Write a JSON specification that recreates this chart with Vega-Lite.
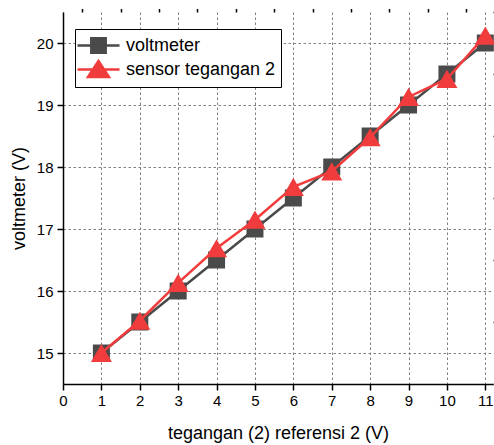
{
  "$schema": "https://vega.github.io/schema/vega-lite/v6.json",
  "width": 430,
  "height": 372,
  "autosize": {"type": "none"},
  "padding": {"left": 63, "top": 12, "right": 1, "bottom": 61},
  "config": {
    "view": {"stroke": null},
    "font": "Liberation Sans",
    "axis": {
      "labelFont": "Liberation Sans",
      "labelFontSize": 15,
      "labelColor": "#000000",
      "labelFlush": false,
      "titleFont": "Liberation Sans",
      "titleFontSize": 18,
      "titleFontWeight": "normal",
      "titleColor": "#000000",
      "domainColor": "#000000",
      "domainWidth": 1.5,
      "tickColor": "#000000",
      "tickWidth": 1.5,
      "gridColor": "#808080",
      "gridDash": [2.5, 2.5],
      "gridWidth": 1
    }
  },
  "data": {
    "values": [
      {"x": 1, "y": 15.0, "series": "voltmeter"},
      {"x": 2, "y": 15.5, "series": "voltmeter"},
      {"x": 3, "y": 16.0, "series": "voltmeter"},
      {"x": 4, "y": 16.5, "series": "voltmeter"},
      {"x": 5, "y": 17.0, "series": "voltmeter"},
      {"x": 6, "y": 17.5, "series": "voltmeter"},
      {"x": 7, "y": 18.0, "series": "voltmeter"},
      {"x": 8, "y": 18.5, "series": "voltmeter"},
      {"x": 9, "y": 19.0, "series": "voltmeter"},
      {"x": 10, "y": 19.5, "series": "voltmeter"},
      {"x": 11, "y": 20.0, "series": "voltmeter"},
      {"x": 1, "y": 15.0, "series": "sensor tegangan 2"},
      {"x": 2, "y": 15.52, "series": "sensor tegangan 2"},
      {"x": 3, "y": 16.13, "series": "sensor tegangan 2"},
      {"x": 4, "y": 16.69, "series": "sensor tegangan 2"},
      {"x": 5, "y": 17.15, "series": "sensor tegangan 2"},
      {"x": 6, "y": 17.68, "series": "sensor tegangan 2"},
      {"x": 7, "y": 17.93, "series": "sensor tegangan 2"},
      {"x": 8, "y": 18.48, "series": "sensor tegangan 2"},
      {"x": 9, "y": 19.13, "series": "sensor tegangan 2"},
      {"x": 10, "y": 19.42, "series": "sensor tegangan 2"},
      {"x": 11, "y": 20.12, "series": "sensor tegangan 2"}
    ]
  },
  "layer": [
    {
      "transform": [{"filter": "datum.series === 'voltmeter'"}],
      "mark": {"type": "line", "strokeWidth": 2.5},
      "encoding": {
        "x": {
          "field": "x", "type": "quantitative",
          "scale": {"domain": [0, 11.2], "nice": false, "zero": false},
          "axis": {
            "values": [0, 1, 2, 3, 4, 5, 6, 7, 8, 9, 10, 11],
            "format": "d",
            "tickSize": 6,
            "labelPadding": 3,
            "grid": true,
            "title": "tegangan (2) referensi 2 (V)",
            "titlePadding": 16
          }
        },
        "y": {
          "field": "y", "type": "quantitative",
          "scale": {"domain": [14.5, 20.5], "nice": false, "zero": false},
          "axis": {
            "values": [15, 16, 17, 18, 19, 20],
            "format": "d",
            "tickSize": 6,
            "labelPadding": 4,
            "grid": true,
            "title": "voltmeter (V)",
            "titlePadding": 8
          }
        },
        "color": {
          "field": "series", "type": "nominal",
          "scale": {"domain": ["voltmeter", "sensor tegangan 2"], "range": ["#4a4a4a", "#f03c3c"]},
          "legend": {
            "title": null,
            "orient": "none",
            "legendX": 12,
            "legendY": 17,
            "direction": "vertical",
            "fillColor": "#ffffff",
            "strokeColor": "#000000",
            "padding": 5,
            "cornerRadius": 0,
            "symbolSize": 400,
            "symbolStrokeWidth": 2.5,
            "symbolOffset": 7,
            "labelOffset": 16,
            "labelFont": "Liberation Sans",
            "labelFontSize": 18,
            "labelColor": "#000000",
            "labelLimit": 0,
            "rowPadding": -5,
            "encode": {
              "symbols": {
                "update": {
                  "shape": {"signal": "datum.value === 'voltmeter' ? 'M-2.1,0H2.1M-0.72,-0.72H0.72V0.72H-0.72Z' : 'M-2.1,0H2.1M0,-0.85L-1.05,0.75H1.05Z'"},
                  "fill": {"signal": "scale('color', datum.value)"},
                  "stroke": {"signal": "scale('color', datum.value)"},
                  "opacity": {"value": 1}
                }
              }
            }
          }
        }
      }
    },
    {
      "transform": [{"filter": "datum.series === 'voltmeter'"}],
      "mark": {"type": "point", "shape": "square", "filled": true, "opacity": 1, "size": 289},
      "encoding": {
        "x": {
          "field": "x", "type": "quantitative",
          "axis": {
            "values": [0.5, 1.5, 2.5, 3.5, 4.5, 5.5, 6.5, 7.5, 8.5, 9.5, 10.5],
            "tickSize": 3.5, "labels": false, "grid": false, "domain": false, "title": null
          }
        },
        "y": {
          "field": "y", "type": "quantitative",
          "axis": {
            "values": [14.5, 15.5, 16.5, 17.5, 18.5, 19.5, 20.5],
            "tickSize": 3.5, "labels": false, "grid": false, "domain": false, "title": null
          }
        },
        "color": {"field": "series", "type": "nominal"}
      }
    },
    {
      "transform": [{"filter": "datum.series === 'sensor tegangan 2'"}],
      "mark": {"type": "line", "strokeWidth": 2.5},
      "encoding": {
        "x": {"field": "x", "type": "quantitative", "axis": null},
        "y": {"field": "y", "type": "quantitative", "axis": null},
        "color": {"field": "series", "type": "nominal"}
      }
    },
    {
      "transform": [{"filter": "datum.series === 'sensor tegangan 2'"}],
      "mark": {"type": "point", "shape": "triangle-up", "filled": true, "opacity": 1, "size": 441},
      "encoding": {
        "x": {"field": "x", "type": "quantitative", "axis": null},
        "y": {"field": "y", "type": "quantitative", "axis": null},
        "color": {"field": "series", "type": "nominal"}
      }
    }
  ],
  "resolve": {"axis": {"x": "independent", "y": "independent"}}
}
